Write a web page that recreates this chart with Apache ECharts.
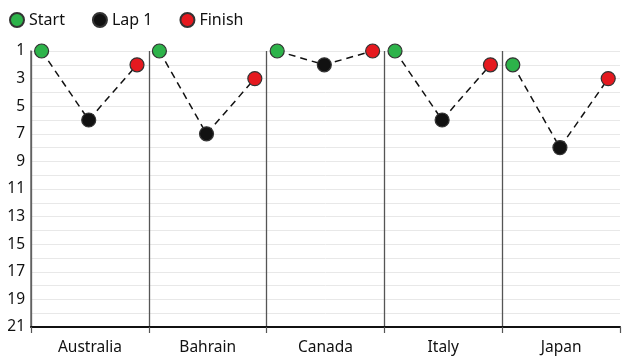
<!DOCTYPE html>
<html>
<head>
<meta charset="utf-8">
<script src="https://cdn.jsdelivr.net/npm/echarts@6/dist/echarts.min.js"></script>
<style>html,body{margin:0;padding:0;background:#fff}#c{width:624px;height:360px}</style>
</head>
<body>
<div id="c"></div>
<script>
var races = ['Australia', 'Bahrain', 'Canada', 'Italy', 'Japan'];
var startPos = [1, 1, 1, 1, 2];
var lap1Pos = [6, 7, 2, 6, 8];
var finishPos = [2, 3, 1, 2, 3];
var yTicks = [1, 3, 5, 7, 9, 11, 13, 15, 17, 19, 21];

// horizontal placement within each race slot (layout only)
var OFF = [0.09, 0.49, 0.9];

function pts(arr, k) {
  return arr.map(function (v, i) { return [i + OFF[k], v]; });
}
var conn = [];
races.forEach(function (r, i) {
  conn.push([i + OFF[0], startPos[i]]);
  conn.push([i + OFF[1], lap1Pos[i]]);
  conn.push([i + OFF[2], finishPos[i]]);
  if (i < races.length - 1) conn.push([i + 1, null]);
});

var font = 'Noto Sans';
var chart = echarts.init(document.getElementById('c'), null, {renderer: 'canvas'});
var markerStyle = function (c) { return {color: c, borderColor: '#333', borderWidth: 1.2, opacity: 1}; };
chart.setOption({
  animation: false,
  backgroundColor: '#fff',
  textStyle: {fontFamily: font},
  legend: {
    left: 4, top: 7,
    icon: 'circle', itemWidth: 14, itemHeight: 14, itemGap: 27,
    textStyle: {fontSize: 16, color: '#111', fontFamily: font},
    data: ['Start', 'Lap 1', 'Finish']
  },
  grid: {left: 31, right: 4, top: 51, bottom: 33, containLabel: false},
  xAxis: [{
    type: 'category', data: races, boundaryGap: true,
    axisLine: {show: true, lineStyle: {color: '#111', width: 2}},
    axisTick: {show: true, length: 6, lineStyle: {color: '#555', width: 1.2}},
    axisLabel: {fontSize: 15.5, color: '#111', margin: 13, fontFamily: font},
    splitLine: {show: true, showMinLine: true, showMaxLine: false, lineStyle: {color: '#555', width: 1.3}}
  }, {
    type: 'value', min: 0, max: 5, show: false
  }],
  yAxis: {
    type: 'value', inverse: true, min: 1, max: 21, interval: 1,
    axisLine: {show: true, lineStyle: {color: '#666', width: 1.5}},
    axisTick: {show: false},
    axisLabel: {
      fontSize: 15.5, color: '#111', margin: 6, fontFamily: font,
      formatter: function (v) { return yTicks.indexOf(v) >= 0 ? String(v) : ''; }
    },
    splitLine: {show: true, lineStyle: {color: '#e8e8e8', width: 1}}
  },
  series: [{
    name: 'conn', type: 'line', xAxisIndex: 1, data: conn, symbol: 'none',
    connectNulls: false, z: 2, silent: true,
    lineStyle: {color: '#111', width: 1.5, type: [7, 5]}
  }, {
    name: 'Start', type: 'scatter', xAxisIndex: 1, data: pts(startPos, 0),
    symbolSize: 14, itemStyle: markerStyle('#2db34a'), z: 3, clip: false
  }, {
    name: 'Lap 1', type: 'scatter', xAxisIndex: 1, data: pts(lap1Pos, 1),
    symbolSize: 14, itemStyle: markerStyle('#111'), z: 3, clip: false
  }, {
    name: 'Finish', type: 'scatter', xAxisIndex: 1, data: pts(finishPos, 2),
    symbolSize: 14, itemStyle: markerStyle('#e5191f'), z: 3, clip: false
  }]
});
</script>
</body>
</html>
